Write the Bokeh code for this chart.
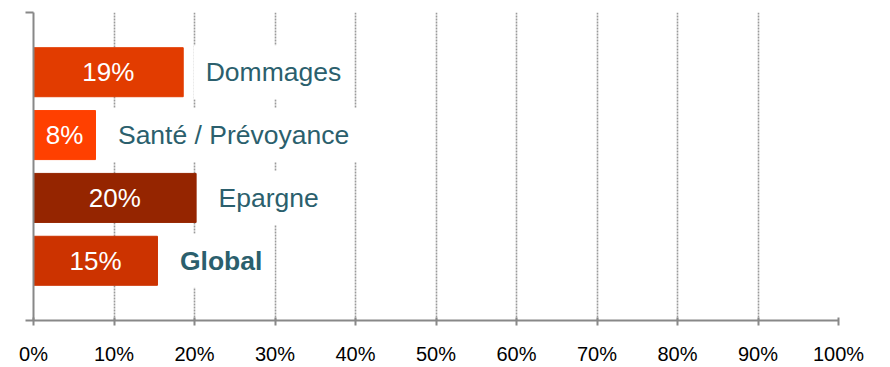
from bokeh.plotting import figure
from bokeh.models import FixedTicker, Range1d, ColumnDataSource
from bokeh.core.properties import value
from bokeh.embed import file_html
from bokeh.resources import INLINE

# ---- data ----
categories = ["Dommages", "Santé / Prévoyance", "Epargne", "Global"]
values = [18.6, 7.7, 20.2, 15.4]
value_labels = ["19%", "8%", "20%", "15%"]
bar_colors = ["#E23C00", "#FF4000", "#952500", "#CC3300"]
label_styles = ["normal", "normal", "normal", "bold"]
x_ticks = [0, 10, 20, 30, 40, 50, 60, 70, 80, 90, 100]
x_tick_labels = ["0%", "10%", "20%", "30%", "40%", "50%", "60%", "70%", "80%", "90%", "100%"]

n = len(categories)
ypos = [n - 1 - i for i in range(n)]
label_gap = 1.3
pad = 12

src = ColumnDataSource(dict(
    y=ypos, val=values, mid=[v / 2 for v in values], vlab=value_labels,
    color=bar_colors, cat=categories, lx=[v + label_gap for v in values],
    style=label_styles,
))

y_start, y_end = -0.95, n - 1 + 0.95

p = figure(width=890, height=367, output_backend="svg", toolbar_location=None,
           x_range=Range1d(0, 100), y_range=Range1d(y_start, y_end),
           min_border_left=33, min_border_right=52, min_border_top=12, min_border_bottom=46)
p.outline_line_color = None
p.background_fill_color = "white"
p.border_fill_color = "white"

p.hbar(y="y", left=0, right="val", height=0.78, color="color", source=src)

p.text(x="mid", y="y", text="vlab", source=src, text_color="white",
       text_font=value("Liberation Sans"), text_font_size=value("26px"),
       text_align="center", text_baseline="middle")

p.text(x="lx", y="y", text="cat", source=src, text_color="#2B5F6D",
       text_font=value("Liberation Sans"), text_font_size=value("26.5px"),
       text_font_style="style", text_align="left", text_baseline="middle",
       background_fill_color="white", padding=pad)

# grid
p.ygrid.visible = False
p.xgrid.ticker = FixedTicker(ticks=x_ticks[1:])
p.xgrid.grid_line_color = "#9a9a9a"
p.xgrid.grid_line_dash = "2 1"
p.xgrid.grid_line_width = 1.6

# x axis
xa = p.xaxis[0]
xa.ticker = FixedTicker(ticks=x_ticks)
xa.major_label_overrides = {t: l for t, l in zip(x_ticks, x_tick_labels)}
xa.axis_line_color = "#888888"
xa.axis_line_width = 2
xa.major_tick_line_color = "#888888"
xa.major_tick_line_width = 2
xa.major_tick_in = 3
xa.major_tick_out = 5
xa.minor_tick_line_color = None
xa.major_label_text_font = "Liberation Sans"
xa.major_label_text_font_size = "20px"
xa.major_label_text_color = "#000000"
xa.major_label_standoff = 17

# y axis (line and end ticks only)
ya = p.yaxis[0]
ya.ticker = FixedTicker(ticks=[y_start, y_end])
ya.major_label_overrides = {y_start: "", y_end: ""}
ya.axis_line_color = "#888888"
ya.axis_line_width = 2
ya.major_tick_line_color = "#888888"
ya.major_tick_line_width = 2
ya.major_tick_in = 0
ya.major_tick_out = 8
ya.minor_tick_line_color = None
ya.major_label_standoff = 0

open("out.html", "w").write(file_html(p, INLINE))
